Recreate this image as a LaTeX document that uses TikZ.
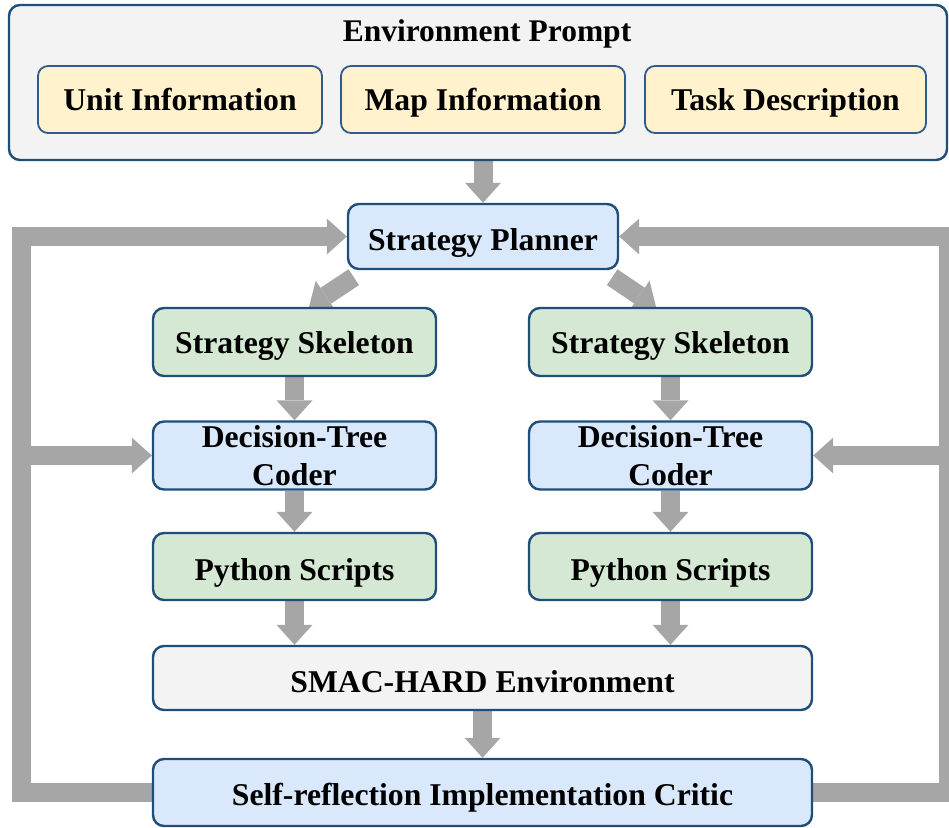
\documentclass[tikz,border=0pt]{standalone}
\usepackage{fontspec}
\setmainfont{Liberation Serif}
\usetikzlibrary{arrows.meta,backgrounds,calc}
\definecolor{bordc}{HTML}{1F4E79}
\definecolor{ylwbord}{HTML}{2F5C8F}
\definecolor{bluef}{HTML}{DAE8FC}
\definecolor{greenf}{HTML}{D5E8D4}
\definecolor{yelf}{HTML}{FFF2CC}
\definecolor{grayf}{HTML}{F3F3F3}
\definecolor{arrowc}{HTML}{A6A6A6}
\tikzset{
  box/.style={draw=bordc, line width=2.4pt, rounded corners=11pt, inner sep=0pt,
    font=\fontsize{31.7}{37.5}\selectfont\bfseries, align=center},
  bl/.style={text height=#1, text depth=0pt},
  bluebox/.style={box, fill=bluef},
  greenbox/.style={box, fill=greenf},
  graybox/.style={box, fill=grayf},
  yelbox/.style={box, draw=ylwbord, line width=1.8pt, rounded corners=10pt, fill=yelf},
  fatline/.style={draw=arrowc, line width=19pt, line join=miter},
  fat/.style={fatline, -{Triangle[length=20pt,width=36pt,line width=0pt]}},
  title/.style={font=\fontsize{31.5}{37}\selectfont\bfseries, inner sep=0pt}
}
\begin{document}
\begin{tikzpicture}[x=1pt,y=-1pt]
\useasboundingbox (0,0) rectangle (949,827);
\clip (0,0) rectangle (949,827);
% environment prompt
\node[graybox, minimum width=938pt, minimum height=155pt] (env) at (478,82.5) {};
\node[title, anchor=base] (envt) at (487,41) {Environment Prompt};
\node[yelbox, bl=21pt, minimum width=284pt, minimum height=67pt] (unit) at (180,99.5) {Unit Information};
\node[yelbox, bl=21pt, minimum width=284pt, minimum height=67pt] (map) at (483,99.5) {Map Information};
\node[yelbox, bl=21pt, minimum width=281pt, minimum height=67pt] (task) at (785.5,99.5) {Task Description};
% planner
\node[bluebox, bl=27pt, minimum width=270pt, minimum height=65pt] (sp) at (483,236.5) {Strategy Planner};
% left column
\node[greenbox, bl=22pt, minimum width=283pt, minimum height=68pt] (ss1) at (294.5,342) {Strategy Skeleton};
\node[bluebox, minimum width=283pt, minimum height=68pt] (dtc1) at (294.5,455.5) {Decision-Tree\\Coder};
\node[greenbox, bl=27pt, minimum width=283pt, minimum height=67pt] (ps1) at (294.5,566.5) {Python Scripts};
% right column
\node[greenbox, bl=22pt, minimum width=283pt, minimum height=68pt] (ss2) at (670.5,342) {Strategy Skeleton};
\node[bluebox, minimum width=283pt, minimum height=68pt] (dtc2) at (670.5,455.5) {Decision-Tree\\Coder};
\node[greenbox, bl=27pt, minimum width=283pt, minimum height=67pt] (ps2) at (670.5,566.5) {Python Scripts};
% bottom
\node[graybox, bl=28pt, minimum width=659pt, minimum height=64pt] (smac) at (482.5,678) {SMAC-HARD Environment};
\node[bluebox, bl=25pt, minimum width=659pt, minimum height=67pt] (critic) at (482.5,792.5) {Self-reflection Implementation Critic};
\coordinate (lx) at (21,0);
\coordinate (rx) at (948,0);
\begin{pgfonlayer}{background}
\draw[fat] (env.south -| sp.north) -- (sp.north);
\draw[fat] ([shift={(7,7)}]sp.south west) -- ([xshift=14.5pt]ss1.north);
\draw[fat] ([shift={(-7,7)}]sp.south east) -- ([xshift=-14.5pt]ss2.north);
\draw[fat] (ss1) -- (dtc1);
\draw[fat] (dtc1) -- (ps1);
\draw[fat] (ps1.south) -- (ps1.south |- smac.north);
\draw[fat] (ss2) -- (dtc2);
\draw[fat] (dtc2) -- (ps2);
\draw[fat] (ps2.south) -- (ps2.south |- smac.north);
\draw[fat] (smac) -- (critic);
% feedback loops
\draw[fat] (critic.west) -- (critic.west -| lx) -- (sp.west -| lx) -- (sp.west);
\draw[fat] (dtc1.west -| lx) -- (dtc1.west);
\draw[fat] (critic.east) -- (critic.east -| rx) -- (sp.east -| rx) -- (sp.east);
\draw[fat] (dtc2.east -| rx) -- (dtc2.east);
\end{pgfonlayer}
\end{tikzpicture}
\end{document}
